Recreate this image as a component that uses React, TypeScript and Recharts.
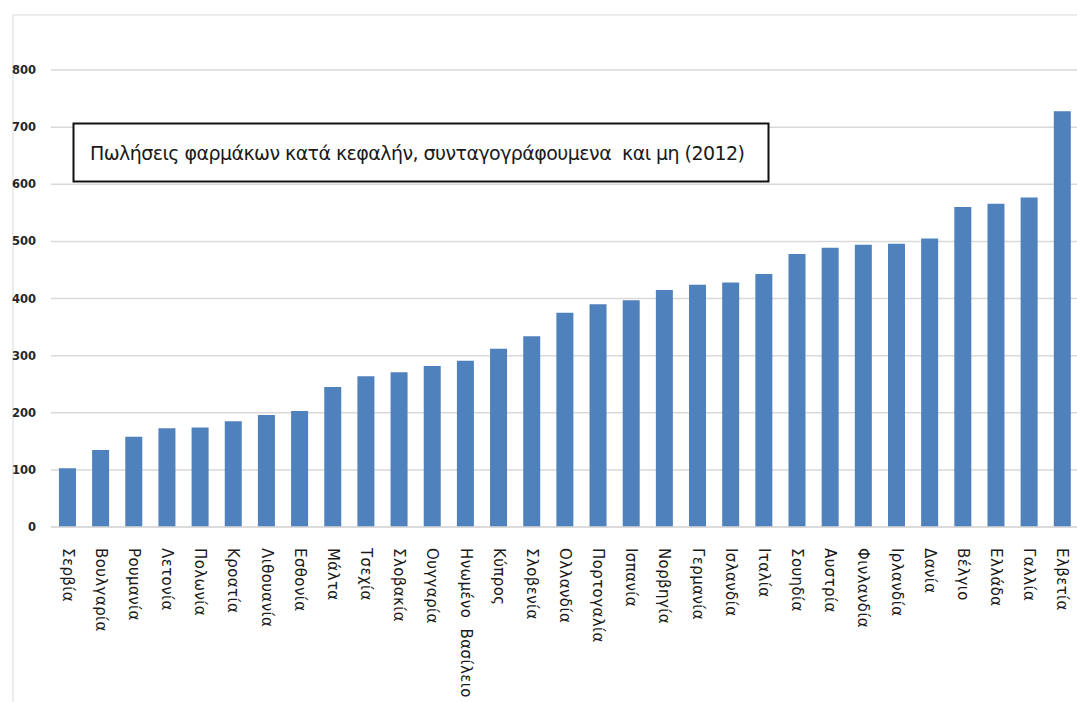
import React from "react";
import { BarChart, Bar, XAxis, YAxis, CartesianGrid } from "recharts";

// Φάρμακα ανά κάτοικο (2012), ταξινομημένα από το χαμηλότερο στο υψηλότερο
const COUNTRIES = [
  "Σερβία",
  "Βουλγαρία",
  "Ρουμανία",
  "Λετονία",
  "Πολωνία",
  "Κροατία",
  "Λιθουανία",
  "Εσθονία",
  "Μάλτα",
  "Τσεχία",
  "Σλοβακία",
  "Ουγγαρία",
  "Ηνωμένο  Βασίλειο",
  "Κύπρος",
  "Σλοβενία",
  "Ολλανδία",
  "Πορτογαλία",
  "Ισπανία",
  "Νορβηγία",
  "Γερμανία",
  "Ισλανδία",
  "Ιταλία",
  "Σουηδία",
  "Αυστρία",
  "Φινλανδία",
  "Ιρλανδία",
  "Δανία",
  "Βέλγιο",
  "Ελλάδα",
  "Γαλλία",
  "Ελβετία",
];

const SALES = [
  103, 135, 158, 173, 174, 185, 196, 203, 245, 264, 271, 282, 291, 312, 334,
  375, 390, 397, 415, 424, 428, 443, 478, 489, 494, 496, 505, 560, 566, 577, 728,
];

const Y_TICKS = [0, 100, 200, 300, 400, 500, 600, 700, 800];

const TITLE = "Πωλήσεις φαρμάκων κατά κεφαλήν, συνταγογράφουμενα  και μη (2012)";

const BAR_COLOR = "#4f81bd";
const GRID_COLOR = "#d9d9d9";

const data = COUNTRIES.map((name, i) => ({ name, value: SALES[i] }));

function CountryTick({ x, y, payload }: { x?: number; y?: number; payload?: { value: string } }) {
  return (
    <text
      transform={`translate(${x}, ${(y ?? 0) + 19}) rotate(90)`}
      textAnchor="start"
      dominantBaseline="central"
      fontFamily="DejaVu Sans, sans-serif"
      fontSize={15}
      letterSpacing={0.4}
      fill="#1a1a1a"
      style={{ whiteSpace: "pre" }}
    >
      {payload?.value}
    </text>
  );
}

export default function App() {
  return (
    <div style={{ position: "relative", width: 1077, height: 702, overflow: "hidden", background: "#fff" }}>
      <style>{"body{margin:0}"}</style>
      {/* faint outer frame */}
      <div
        style={{
          position: "absolute",
          left: 12,
          top: 14,
          width: 1100,
          height: 720,
          borderTop: "2px solid #ececec",
          borderLeft: "2px solid #ececec",
        }}
      />
      <div style={{ position: "absolute", left: 0, top: 0 }}>
        <BarChart
          width={1080}
          height={702}
          data={data}
          margin={{ top: 70, right: 1, bottom: 15, left: 7 }}
          barCategoryGap="24%"
        >
          <CartesianGrid vertical={false} stroke={GRID_COLOR} strokeWidth={1.5} />
          <XAxis
            dataKey="name"
            interval={0}
            height={160}
            axisLine={{ stroke: GRID_COLOR, strokeWidth: 1.5 }}
            tickLine={false}
            tickSize={0}
            tick={<CountryTick />}
          />
          <YAxis
            domain={[0, 800]}
            ticks={Y_TICKS}
            width={44}
            axisLine={false}
            tickLine={false}
            tickSize={0}
            tickMargin={15}
            tick={{ fontFamily: "DejaVu Sans, sans-serif", fontSize: 11.5, fontWeight: 700, fill: "#262626" }}
          />
          <Bar dataKey="value" fill={BAR_COLOR} isAnimationActive={false} />
        </BarChart>
      </div>
      {/* title box over the upper left of the plot */}
      <svg style={{ position: "absolute", left: 0, top: 0 }} width={1077} height={702} pointerEvents="none">
        <rect x={73.5} y={123.5} width={695} height={58} fill="#fff" stroke="#111" strokeWidth={2} />
        <text
          x={90}
          y={160}
          fontFamily="DejaVu Sans, sans-serif"
          fontSize={19}
          fill="#1a1a1a"
          textLength={655}
          lengthAdjust="spacing"
          style={{ whiteSpace: "pre" }}
        >
          {TITLE}
        </text>
      </svg>
    </div>
  );
}
